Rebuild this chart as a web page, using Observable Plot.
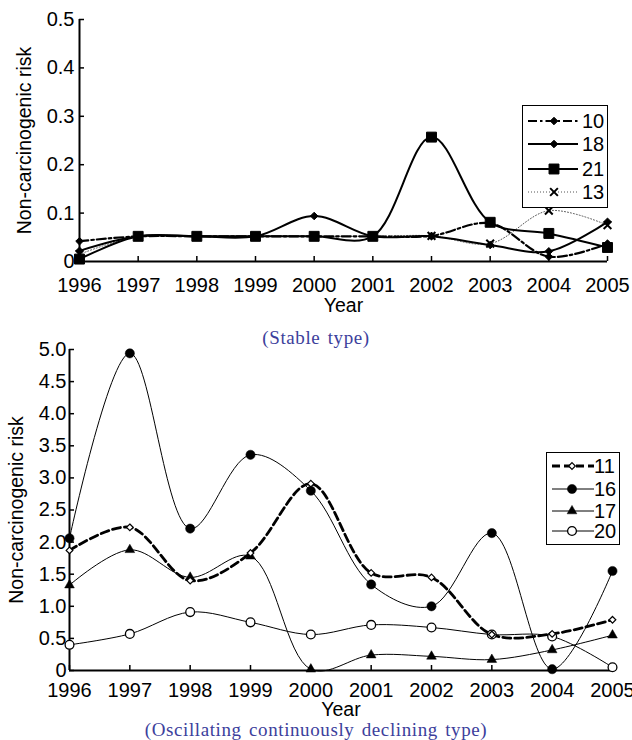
<!DOCTYPE html>
<html>
<head>
<meta charset="utf-8">
<script src="https://cdn.jsdelivr.net/npm/d3@7"></script>
<script src="https://cdn.jsdelivr.net/npm/@observablehq/plot@0.6"></script>
<style>
  html, body { margin: 0; padding: 0; background: #fff; }
  body { width: 632px; height: 740px; position: relative; overflow: hidden; font-family: "Liberation Sans", Arial, sans-serif; }
  .abs { position: absolute; }
  .caption { position: absolute; left: 0; width: 632px; text-align: center; font-family: "Liberation Serif", "Times New Roman", serif; color: #3c409c; font-size: 19px; letter-spacing: 0.6px; word-spacing: 2px; }
  .legend { position: absolute; border: 1.5px solid #000; background: #fff; box-sizing: border-box; }
  .legend .row { position: absolute; left: 0; display: flex; align-items: center; font-size: 20px; line-height: 20px; color: #000; }
</style>
</head>
<body>
<div id="topChart" class="abs" style="left:0;top:0"></div>
<div id="botChart" class="abs" style="left:0;top:330px"></div>
<div class="caption" style="top:327px">(Stable type)</div>
<div class="caption" style="top:719px">(Oscillating continuously declining type)</div>
<div id="topLegend" class="legend" style="left:522px;top:105px;width:86px;height:103px"></div>
<div id="botLegend" class="legend" style="left:546px;top:452px;width:74px;height:93px"></div>
<script>
// ---------- data ----------
const years = [1996, 1997, 1998, 1999, 2000, 2001, 2002, 2003, 2004, 2005];

// Stable type
const topNames = ["10", "18", "21", "13"];
const top10 = [0.042, 0.052, 0.052, 0.052, 0.052, 0.052, 0.053, 0.079, 0.010, 0.037];
const top18 = [0.022, 0.052, 0.052, 0.052, 0.094, 0.052, 0.052, 0.034, 0.021, 0.082];
const top21 = [0.005, 0.052, 0.052, 0.052, 0.052, 0.052, 0.257, 0.081, 0.058, 0.029];
const top13 = [0.015, 0.052, 0.052, 0.052, 0.052, 0.052, 0.053, 0.037, 0.105, 0.075];
const topTicks = [0, 0.1, 0.2, 0.3, 0.4, 0.5];

// Oscillating continuously declining type
const botNames = ["11", "16", "17", "20"];
const bot11 = [1.87, 2.23, 1.40, 1.83, 2.91, 1.52, 1.45, 0.56, 0.57, 0.79];
const bot16 = [2.06, 4.94, 2.21, 3.36, 2.80, 1.34, 1.00, 2.14, 0.02, 1.55];
const bot17 = [1.33, 1.88, 1.45, 1.78, 0.02, 0.24, 0.22, 0.17, 0.32, 0.55];
const bot20 = [0.40, 0.57, 0.91, 0.75, 0.56, 0.71, 0.67, 0.56, 0.53, 0.05];
const botTicks = [0, 0.5, 1.0, 1.5, 2.0, 2.5, 3.0, 3.5, 4.0, 4.5, 5.0];

const yLabel = "Non-carcinogenic risk";
const xLabel = "Year";

// ---------- styles ----------
const topStyle = {
  "13": {values: top13, stroke: "#555", width: 1, dash: "1,2", symbol: "times", r: 3.6, fill: "none", sstroke: "#000", sw: 2},
  "10": {values: top10, stroke: "#000", width: 2.2, dash: "9,3,2.5,3", symbol: "diamond2", r: 3.4, fill: "#000", sstroke: "#000", sw: 1},
  "18": {values: top18, stroke: "#000", width: 2, dash: null, symbol: "diamond2", r: 3.4, fill: "#000", sstroke: "#000", sw: 1},
  "21": {values: top21, stroke: "#000", width: 2, dash: null, symbol: "square", r: 5.6, fill: "#000", sstroke: "#000", sw: 1}
};
const topOrder = ["13", "10", "18", "21"];

const botStyle = {
  "20": {values: bot20, stroke: "#000", width: 1, dash: null, symbol: "circle", r: 4.4, fill: "#fff", sstroke: "#000", sw: 1.3},
  "17": {values: bot17, stroke: "#000", width: 1, dash: null, symbol: "triangle", r: 3.6, fill: "#000", sstroke: "#000", sw: 0.5},
  "16": {values: bot16, stroke: "#000", width: 1, dash: null, symbol: "circle", r: 4.6, fill: "#000", sstroke: "#000", sw: 0.5},
  "11": {values: bot11, stroke: "#000", width: 2.8, dash: "8,4", symbol: "diamond2", r: 3.0, fill: "#fff", sstroke: "#000", sw: 1.2}
};
const botOrder = ["20", "17", "16", "11"];

const fontFam = "'Liberation Sans', Arial, sans-serif";

function seriesMarks(styles, order) {
  const marks = [];
  for (const k of order) {
    const s = styles[k];
    const data = years.map((x, i) => ({x, y: s.values[i]}));
    marks.push(Plot.line(data, {x: "x", y: "y", curve: "catmull-rom", stroke: s.stroke, strokeWidth: s.width, strokeDasharray: s.dash || undefined}));
  }
  for (const k of order) {
    const s = styles[k];
    const data = years.map((x, i) => ({x, y: s.values[i]}));
    marks.push(Plot.dot(data, {x: "x", y: "y", symbol: s.symbol, r: s.r, fill: s.fill, stroke: s.sstroke, strokeWidth: s.sw}));
  }
  return marks;
}

// ---------- top chart ----------
const topPlot = Plot.plot({
  width: 632, height: 320,
  marginTop: 19, marginBottom: 59, marginLeft: 79, marginRight: 25,
  style: {fontFamily: fontFam, fontSize: "20px", color: "#000", background: "transparent", overflow: "visible"},
  x: {domain: [1996, 2005]},
  y: {domain: [0, 0.5]},
  marks: [
    Plot.axisX({ticks: years, tickFormat: d => String(d), tickSize: -5, tickPadding: 21, strokeWidth: 1.5,
      label: null, fontSize: 20}),
    Plot.axisX({ticks: [], label: xLabel, labelAnchor: "center", labelArrow: "none", labelOffset: 50, fontSize: 19.5}),
    Plot.axisY({ticks: topTicks, tickFormat: d => d === 0 ? "0" : d.toFixed(1), tickSize: -5, tickPadding: 10, strokeWidth: 1.5,
      label: null, fontSize: 20}),
    Plot.axisY({ticks: [], label: yLabel, labelAnchor: "center", labelArrow: "none", labelOffset: 62, fontSize: 19.5}),
    Plot.ruleY([0], {stroke: "#000", strokeWidth: 2}),
    Plot.ruleX([1996], {y1: 0, y2: 0.5, stroke: "#000", strokeWidth: 2}),
    ...seriesMarks(topStyle, topOrder)
  ]
});
document.getElementById("topChart").append(topPlot);

// ---------- bottom chart ----------
const botPlot = Plot.plot({
  width: 632, height: 410,
  marginTop: 19, marginBottom: 70, marginLeft: 69, marginRight: 20,
  style: {fontFamily: fontFam, fontSize: "20px", color: "#000", background: "transparent", overflow: "visible"},
  x: {domain: [1996, 2005]},
  y: {domain: [0, 5]},
  marks: [
    Plot.axisX({ticks: years, tickFormat: d => String(d), tickSize: -5, tickPadding: 17, strokeWidth: 1.5,
      label: null, fontSize: 20}),
    Plot.axisX({ticks: [], label: xLabel, labelAnchor: "center", labelArrow: "none", labelOffset: 45, fontSize: 19.5}),
    Plot.axisY({ticks: botTicks, tickFormat: d => d === 0 ? "0" : d.toFixed(1), tickSize: -5, tickPadding: 8, strokeWidth: 1.5,
      label: null, fontSize: 20}),
    Plot.axisY({ticks: [], label: yLabel, labelAnchor: "center", labelArrow: "none", labelOffset: 60, fontSize: 19.5}),
    Plot.ruleY([0], {stroke: "#000", strokeWidth: 2}),
    Plot.ruleX([1996], {y1: 0, y2: 5, stroke: "#000", strokeWidth: 2}),
    ...seriesMarks(botStyle, botOrder)
  ]
});
document.getElementById("botChart").append(botPlot);

// ---------- legends ----------
const symbolMap = {circle: d3.symbolCircle, square: d3.symbolSquare, diamond2: d3.symbolDiamond2, triangle: d3.symbolTriangle, times: d3.symbolTimes};

function buildLegend(id, names, styles, {rowTops, lineX0, lineX1, markX, textLeft, rowH}) {
  const box = document.getElementById(id);
  names.forEach((name, i) => {
    const s = styles[name];
    const row = document.createElement("div");
    row.className = "row";
    row.style.top = rowTops[i] + "px";
    row.style.height = rowH + "px";
    const svg = d3.create("svg").attr("width", textLeft).attr("height", rowH).style("display", "block");
    svg.append("line").attr("x1", lineX0).attr("x2", lineX1).attr("y1", rowH / 2).attr("y2", rowH / 2)
      .attr("stroke", s.stroke).attr("stroke-width", s.width).attr("stroke-dasharray", s.dash || null);
    svg.append("path").attr("d", d3.symbol(symbolMap[s.symbol], s.r * s.r * Math.PI)())
      .attr("transform", `translate(${markX},${rowH / 2})`)
      .attr("fill", s.fill).attr("stroke", s.sstroke).attr("stroke-width", s.sw);
    row.append(svg.node());
    const t = document.createElement("span");
    t.textContent = name;
    row.append(t);
    box.append(row);
  });
}

buildLegend("topLegend", topNames, topStyle, {rowTops: [4, 27, 52, 75], lineX0: 5, lineX1: 55, markX: 31, textLeft: 59, rowH: 22});
buildLegend("botLegend", botNames, botStyle, {rowTops: [2, 25, 47, 67], lineX0: 5, lineX1: 47, markX: 25, textLeft: 47, rowH: 22});
</script>
</body>
</html>
